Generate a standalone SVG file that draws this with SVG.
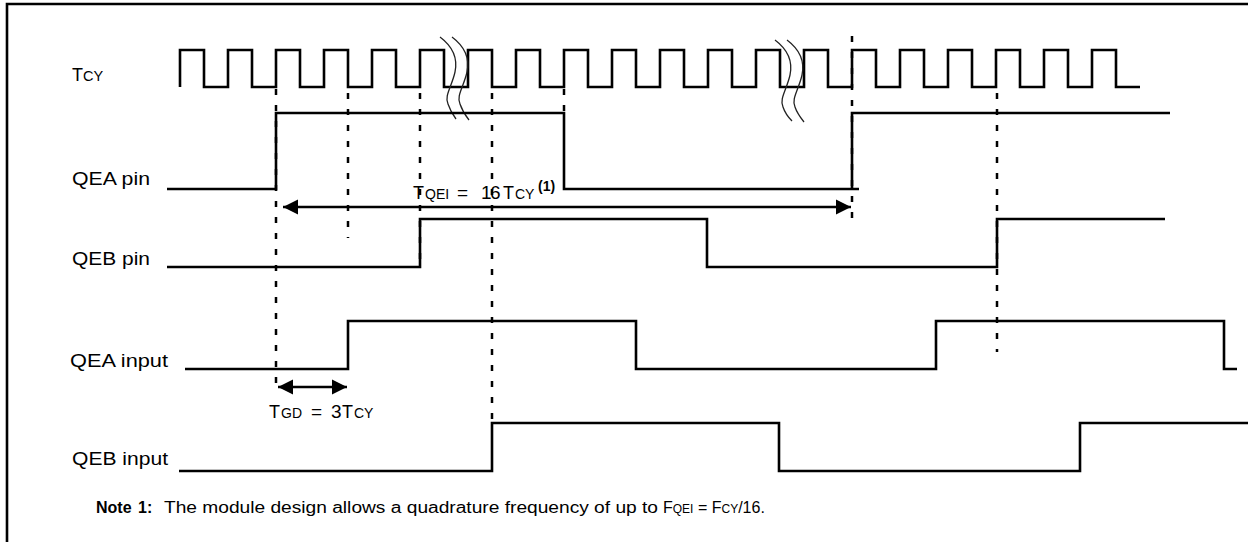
<svg xmlns="http://www.w3.org/2000/svg" width="1248" height="542" viewBox="0 0 1248 542">
<style>
.lbl{font-family:"Liberation Sans",Arial,sans-serif;font-size:19px;fill:#000}
.note{font-family:"Liberation Sans",Arial,sans-serif;font-size:16px;fill:#000}
.sig{fill:none;stroke:#000;stroke-width:2.6;stroke-linejoin:miter}
.dash{fill:none;stroke:#000;stroke-width:2.5;stroke-dasharray:6 10}
.brk{fill:none;stroke:#222;stroke-width:1.3}
.arr{fill:none;stroke:#000;stroke-width:2.6}
.sm{font-size:14px}
</style>
<defs>
<marker id="ah" markerUnits="userSpaceOnUse" markerWidth="16" markerHeight="16" refX="15" refY="8" orient="auto-start-reverse" viewBox="0 0 16 16">
<path d="M0,0.5 L15,8 L0,15.5 z" fill="#000"/>
</marker>
</defs>
<rect width="1248" height="542" fill="#fff"/>
<g id="frame"><path d="M7,542 V4 H1248" fill="none" stroke="#000" stroke-width="2.6"/></g>

<g id="tcy">
<text class="lbl" x="72" y="81"><tspan font-size="18">T</tspan><tspan font-size="14.5">CY</tspan></text>
<path class="sig" d="M180,87 V50 H204 V87 H228 V50 H252 V87 H276 V50 H300 V87 H324 V50 H348 V87 H372 V50 H396 V87 H420 V50 H444 V87 H468 V50 H492 V87 H516 V50 H540 V87 H564 V50 H588 V87 H612 V50 H636 V87 H660 V50 H684 V87 H708 V50 H732 V87 H756 V50 H780 V87 H804 V50 H828 V87 H852 V50 H876 V87 H900 V50 H924 V87 H948 V50 H972 V87 H996 V50 H1020 V87 H1044 V50 H1068 V87 H1092 V50 H1116 V87 H1140"/>
<path class="brk" d="M440,37 C452,46 458,58 455,72 C452,86 444,96 448,104 C450,110 453,115 456,119"/>
<path class="brk" d="M452,37 C464,46 470,58 467,72 C464,86 456,96 460,104 C462,110 465,115 469,120"/>
<path class="brk" d="M775,40 C787,49 793,61 790,75 C787,89 779,99 783,107 C785,113 788,117 792,121"/>
<path class="brk" d="M787,40 C799,49 805,61 802,75 C799,89 791,99 795,107 C797,113 800,117 804,122"/>
</g>

<g id="qea-pin">
<text class="lbl" x="72" y="185" textLength="78" lengthAdjust="spacingAndGlyphs">QEA pin</text>
<path class="sig" d="M167,189 H276 V113 H564 V189 H859 M852,189 V113 H1170"/>
</g>

<g id="qeb-pin">
<text class="lbl" x="72" y="265" textLength="78" lengthAdjust="spacingAndGlyphs">QEB pin</text>
<path class="sig" d="M167,267 H420 V219 H707 V267 H997 V219 H1165"/>
</g>

<g id="qea-input">
<text class="lbl" x="70" y="367" textLength="98" lengthAdjust="spacingAndGlyphs">QEA input</text>
<path class="sig" d="M185,369 H348 V321 H636 V369 H936 V321 H1224 V369 H1237"/>
</g>

<g id="qeb-input">
<text class="lbl" x="72" y="465" textLength="96" lengthAdjust="spacingAndGlyphs">QEB input</text>
<path class="sig" d="M179,471 H492 V423 H779 V471 H1080 V423 H1248"/>
</g>

<g id="connectors">
<path class="dash" d="M276,89 V392 M348,93 V238 M420,93 V266 M492,93 V421 M564,89 V113 M852,36 V226 M997,93 V352"/>
<path class="arr" d="M283,207 H851" marker-start="url(#ah)" marker-end="url(#ah)"/>
<path class="arr" d="M278,387 H347" marker-start="url(#ah)" marker-end="url(#ah)"/>
</g>

<g id="tqei-label">
<text class="lbl" y="199"><tspan x="413" font-size="18">T</tspan><tspan x="425" class="sm">QEI</tspan><tspan x="457">=</tspan><tspan x="481">1</tspan><tspan x="490">6</tspan><tspan x="503" font-size="18">T</tspan><tspan x="515" class="sm">CY</tspan><tspan x="538" y="191" font-size="14" font-weight="bold">(1)</tspan></text>
</g>

<g id="tgd-label">
<text class="lbl" y="418"><tspan x="269" font-size="18">T</tspan><tspan x="281" class="sm">GD</tspan><tspan x="311">=</tspan><tspan x="331">3</tspan><tspan x="342" font-size="18">T</tspan><tspan x="354" class="sm">CY</tspan></text>
</g>

<g id="note">
<text class="note" x="96" y="513" font-weight="bold">Note</text>
<text class="note" x="138" y="513" font-weight="bold">1:</text>
<text class="note" x="164" y="513" textLength="494" lengthAdjust="spacingAndGlyphs">The module design allows a quadrature frequency of up to</text>
<text class="note" x="663" y="513">F<tspan font-size="12">QEI</tspan> = F<tspan font-size="12">CY</tspan>/16.</text>
</g>
</svg>
